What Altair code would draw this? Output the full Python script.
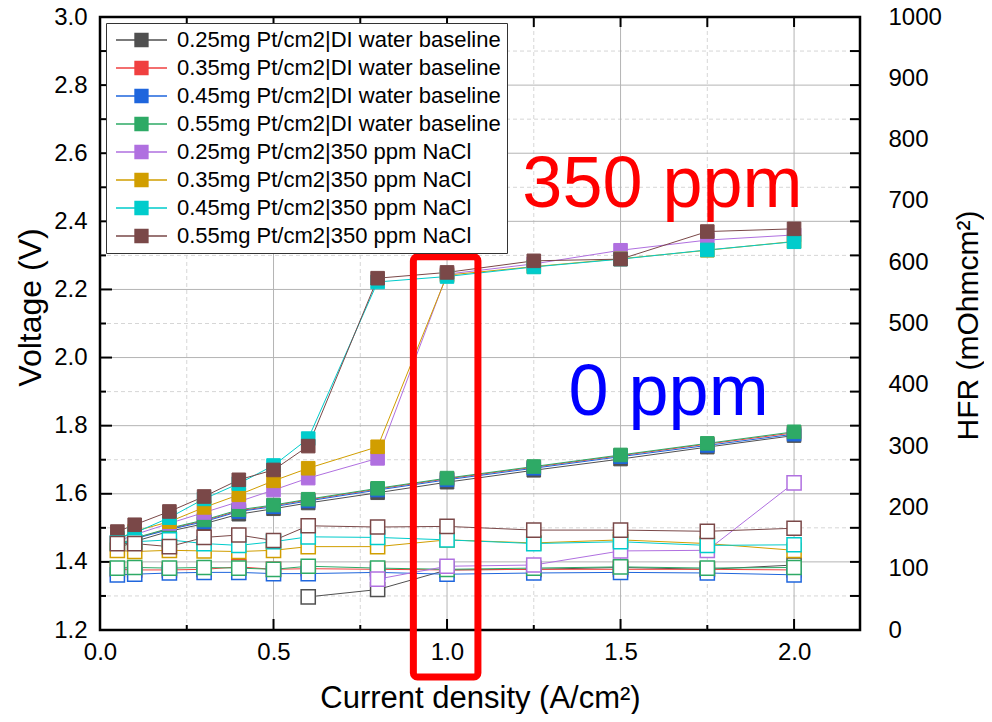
import altair as alt
import pandas as pd

# ---------------- data ----------------
x_vals = [0.05, 0.1, 0.2, 0.3, 0.4, 0.5, 0.6, 0.8, 1.0, 1.25, 1.5, 1.75, 2.0]

series = [
    "0.25mg Pt/cm2|DI water baseline",
    "0.35mg Pt/cm2|DI water baseline",
    "0.45mg Pt/cm2|DI water baseline",
    "0.55mg Pt/cm2|DI water baseline",
    "0.25mg Pt/cm2|350 ppm NaCl",
    "0.35mg Pt/cm2|350 ppm NaCl",
    "0.45mg Pt/cm2|350 ppm NaCl",
    "0.55mg Pt/cm2|350 ppm NaCl",
]
colors = ["#505050", "#F04040", "#1F66DD", "#2EAA66",
          "#B070E0", "#D19E00", "#00CCCC", "#7A4848"]

# Voltage (V), left axis
volt_025_di = [1.44, 1.46, 1.49, 1.512, 1.540, 1.556, 1.573, 1.603, 1.634, 1.669, 1.702, 1.737, 1.771]
volt_035_di = [1.447, 1.469, 1.497, 1.521, 1.550, 1.565, 1.582, 1.614, 1.644, 1.678, 1.712, 1.746, 1.779]
volt_045_di = [1.445, 1.468, 1.495, 1.518, 1.548, 1.562, 1.579, 1.611, 1.641, 1.675, 1.709, 1.742, 1.775]
volt_055_di = [1.45, 1.47, 1.499, 1.523, 1.553, 1.567, 1.584, 1.616, 1.646, 1.680, 1.714, 1.748, 1.782]
volt_025_na = [1.46, 1.48, 1.513, 1.545, 1.577, 1.611, 1.646, 1.704, 2.245, 2.275, 2.315, 2.345, 2.36]
volt_035_na = [1.465, 1.49, 1.518, 1.560, 1.597, 1.638, 1.675, 1.738, 2.242, 2.267, 2.29, 2.315, 2.341]
volt_045_na = [1.47, 1.485, 1.53, 1.585, 1.630, 1.683, 1.762, 2.222, 2.238, 2.266, 2.289, 2.316, 2.340]
volt_055_na = [1.489, 1.509, 1.548, 1.592, 1.641, 1.670, 1.740, 2.233, 2.250, 2.284, 2.289, 2.370, 2.378]

# HFR (mOhm cm2), right axis (None = no point)
hfr_025_di = [None, None, None, None, None, None, 54, 66, 98, 99, 102, 99, 106]
hfr_035_di = [99, 98, 98, 99, 103, 99, 100, 99, 98, 99, 99, 99, 98]
hfr_045_di = [90, 91, 93, 94, 94, 92, 92, 94, 91, 93, 94, 93, 90]
hfr_055_di = [101, 102, 101, 102, 101, 99, 104, 101, 99, 101, 103, 101, 102]
hfr_025_na = [None, None, None, None, None, None, None, 83, 104, 106, 129, 130, 240]
hfr_035_na = [130, 128, 130, 129, 128, 130, 136, 136, 147, 142, 147, 141, 130]
hfr_045_na = [142, 144, 147, 141, 138, 144, 152, 151, 147, 141, 144, 138, 139]
hfr_055_na = [141, 141, 136, 151, 155, 146, 170, 168, 169, 163, 163, 161, 166]

volt_lists = [volt_025_di, volt_035_di, volt_045_di, volt_055_di,
              volt_025_na, volt_035_na, volt_045_na, volt_055_na]
hfr_lists = [hfr_025_di, hfr_035_di, hfr_045_di, hfr_055_di,
             hfr_025_na, hfr_035_na, hfr_045_na, hfr_055_na]

# axis ticks / grid values
x_major = [0.5, 1.0, 1.5, 2.0]
x_minor = [0.25, 0.75, 1.25, 1.75]
v_major = [1.2, 1.4, 1.6, 1.8, 2.0, 2.2, 2.4, 2.6, 2.8, 3.0]
v_minor = [1.3, 1.5, 1.7, 1.9, 2.1, 2.3, 2.5, 2.7, 2.9]
hfr_ticks = [0, 100, 200, 300, 400, 500, 600, 700, 800, 900, 1000]

# annotations
ann_labels = ["350 ppm", "0 ppm"]
ann_x = [1.217, 1.35]
ann_v = [2.443, 1.831]
ann_colors = ["#FF0000", "#0000FF"]
box_x = [0.903, 1.089]
box_v = [2.296, 1.062]

# ---------------- build tables ----------------
rows_v, rows_h = [], []
for name, vl, hl in zip(series, volt_lists, hfr_lists):
    for xv, v, h in zip(x_vals, vl, hl):
        rows_v.append({"x": xv, "series": name, "V": v})
        if h is not None:
            rows_h.append({"x": xv, "series": name, "H": h})
df_v = pd.DataFrame(rows_v)
df_h = pd.DataFrame(rows_h)

W, H = 760, 613
FONT = "Liberation Sans"


def xs():
    return alt.Scale(domain=[0, 2.19], nice=False, zero=False)


def vs():
    return alt.Scale(domain=[1.2, 3.0], nice=False, zero=False)


cscale = alt.Scale(domain=series, range=colors)

x_axis = alt.Axis(values=[0, 0.5, 1.0, 1.5, 2.0], format=".1f",
                  title="Current density (A/cm²)", grid=False, ticks=False,
                  tickSize=0, domain=False, labelFontSize=24, labelFont=FONT,
                  labelColor="black", labelPadding=10, labelFlush=False,
                  titleFont=FONT, titleFontSize=31, titleFontWeight="normal",
                  titleColor="black", titleX=380, titleY=77, titleAlign="center",
                  titleBaseline="alphabetic")

# legend symbol: line with a square in the middle, drawn to the right of the symbol anchor
leg_path = ("M-1,0L1.71,0M3.57,0L6.29,0"
            "M1.71,-0.93L3.57,-0.93L3.57,0.93L1.71,0.93Z")
legend = alt.Legend(title=None, orient="none", legendX=6, legendY=6, padding=6,
                    rowPadding=6, labelFontSize=22, labelFont=FONT, labelColor="black",
                    strokeColor="#333333", fillColor="white", symbolType=leg_path,
                    symbolSize=196, symbolStrokeWidth=1.3, symbolOpacity=1,
                    labelOffset=43, labelLimit=600)


def X(field):
    return alt.X(field, scale=xs(), axis=x_axis)


def vrule(values, color, dash=None, width=1):
    kw = dict(color=color, strokeWidth=width)
    if dash:
        kw["strokeDash"] = dash
    return alt.Chart(pd.DataFrame({"gx": values})).mark_rule(**kw)


def hrule(values, color, dash=None, width=1):
    kw = dict(color=color, strokeWidth=width)
    if dash:
        kw["strokeDash"] = dash
    return alt.Chart(pd.DataFrame({"gv": values, "gx0": 0.0})).mark_rule(**kw)


# ---------------- grid & ticks ----------------
layers = []
layers.append(vrule(x_minor, "#D6D6D6", [4, 3]).encode(
    x=X("gx:Q"), y=alt.Y("g0:Q", scale=vs(), axis=None), y2=alt.value(0)).transform_calculate(g0="1.2"))
layers.append(hrule(v_minor, "#D6D6D6", [4, 3]).encode(
    y=alt.Y("gv:Q", scale=vs(), axis=None), x=X("gx0:Q"), x2=alt.value(W)))
layers.append(vrule(x_major, "#B4B4B4").encode(
    x=X("gx:Q"), y=alt.Y("g0:Q", scale=vs(), axis=None), y2=alt.value(0)).transform_calculate(g0="1.2"))
layers.append(hrule(v_major[1:-1], "#B4B4B4").encode(
    y=alt.Y("gv:Q", scale=vs(), axis=None), x=X("gx0:Q"), x2=alt.value(W)))
# inward ticks
layers.append(hrule(v_major, "black", width=2).encode(
    y=alt.Y("gv:Q", scale=vs(), axis=None), x=X("gx0:Q"), x2=alt.value(12)))
layers.append(hrule(v_minor, "black", width=2).encode(
    y=alt.Y("gv:Q", scale=vs(), axis=None), x=X("gx0:Q"), x2=alt.value(6)))
layers.append(vrule(x_major, "black", width=2).encode(
    x=X("gx:Q"), y=alt.Y("g0:Q", scale=vs(), axis=None), y2=alt.value(H - 11)).transform_calculate(g0="1.2"))
layers.append(vrule(x_minor, "black", width=2).encode(
    x=X("gx:Q"), y=alt.Y("g0:Q", scale=vs(), axis=None), y2=alt.value(H - 5)).transform_calculate(g0="1.2"))
layers.append(vrule(x_major + x_minor, "black", width=2).encode(
    x=X("gx:Q"), y=alt.Y("g0:Q", scale=vs(), axis=None), y2=alt.value(10)).transform_calculate(g0="3.0"))
layers.append(vrule(v_major + v_minor, "black", width=2).encode(
    y=alt.Y("gx:Q", scale=vs(), axis=None), x=X("gxr:Q"), x2=alt.value(W - 10)).transform_calculate(gxr="2.19"))

# ---------------- voltage (left) ----------------
v_axis = alt.Axis(values=v_major, format=".1f", title="Voltage (V)", grid=False,
                  ticks=False, tickSize=0, domain=False, labelFontSize=24,
                  labelFont=FONT, labelColor="black", labelPadding=13, labelFlush=False,
                  titleFont=FONT, titleFontSize=32, titleFontWeight="normal",
                  titleColor="black", titleAngle=270, titleX=-70, titleY=290,
                  titleAlign="center", titleBaseline="middle")
layers.append(alt.Chart(df_v).mark_line(strokeWidth=1).encode(
    x=X("x:Q"),
    y=alt.Y("V:Q", scale=vs(), axis=v_axis),
    stroke=alt.Stroke("series:N", scale=cscale, legend=legend)))
layers.append(alt.Chart(df_v).mark_square(size=185, filled=True, opacity=1, strokeWidth=1).encode(
    x=X("x:Q"),
    y=alt.Y("V:Q", scale=vs(), axis=None),
    fill=alt.Fill("series:N", scale=cscale, legend=legend),
    stroke=alt.Stroke("series:N", scale=cscale, legend=legend)))

# ---------------- HFR (right) ----------------
h_axis = alt.Axis(orient="right", values=hfr_ticks, format="d", title="HFR (mOhmcm²)",
                  grid=False, ticks=False, tickSize=0, domain=False, labelFontSize=24,
                  labelFont=FONT, labelColor="black", labelPadding=28, labelFlush=False,
                  titleFont=FONT, titleFontSize=30, titleFontWeight="normal",
                  titleColor="black", titleAngle=270, titleX=108, titleY=308,
                  titleAlign="center", titleBaseline="middle")
layers.append(alt.Chart(df_h).mark_line(strokeWidth=1).encode(
    x=X("x:Q"),
    y=alt.Y("H:Q", scale=alt.Scale(domain=[0, 1000], nice=False, zero=False), axis=h_axis),
    stroke=alt.Stroke("series:N", scale=cscale, legend=legend)))
layers.append(alt.Chart(df_h).mark_square(size=200, filled=False, fill="white", opacity=1, strokeWidth=1.5).encode(
    x=X("x:Q"),
    y=alt.Y("H:Q", scale=alt.Scale(domain=[0, 1000], nice=False, zero=False), axis=None),
    stroke=alt.Stroke("series:N", scale=cscale, legend=legend)))

# ---------------- annotations ----------------
df_ann = pd.DataFrame({"label": ann_labels, "ax": ann_x, "av": ann_v, "c": ann_colors})
layers.append(alt.Chart(df_ann).mark_text(fontSize=72, font=FONT, align="left", baseline="alphabetic").encode(
    x=X("ax:Q"),
    y=alt.Y("av:Q", scale=vs(), axis=None),
    text="label:N", color=alt.Color("c:N", scale=None, legend=None)))
df_box = pd.DataFrame({"bx0": [box_x[0]], "bx1": [box_x[1]], "bv0": [box_v[0]], "bv1": [box_v[1]]})
layers.append(alt.Chart(df_box).mark_rect(filled=False, stroke="#FF0000", strokeWidth=7, cornerRadius=4).encode(
    x=X("bx0:Q"), x2="bx1:Q",
    y=alt.Y("bv0:Q", scale=vs(), axis=None), y2="bv1:Q"))

chart = alt.layer(*layers).resolve_scale(y="independent").properties(
    width=W, height=H,
    padding={"left": 92, "top": 9, "right": 124, "bottom": 84},
    autosize=alt.AutoSizeParams(type="none"),
).configure(font=FONT).configure_view(stroke="black", strokeWidth=2.5)

chart.save("out.html", embed_options={"renderer": "svg", "actions": False})
